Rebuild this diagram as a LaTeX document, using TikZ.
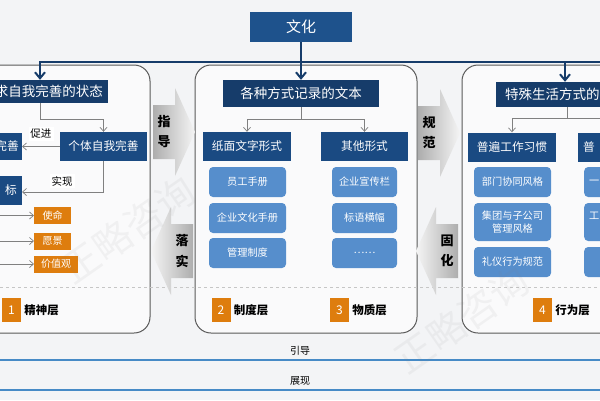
\documentclass[tikz,border=0pt]{standalone}
\usepackage{fontspec}
\setmainfont{Noto Sans CJK SC}
\usetikzlibrary{arrows.meta,positioning}
\definecolor{topblue}{RGB}{30,82,140}
\definecolor{dkblue}{RGB}{22,60,106}
\definecolor{subblue}{RGB}{26,74,130}
\definecolor{ltblue}{RGB}{86,142,204}
\definecolor{orng}{RGB}{222,125,14}
\definecolor{bgcol}{RGB}{243,244,246}
\definecolor{lnblue}{RGB}{70,138,198}
\begin{document}
\begin{tikzpicture}[x=1pt,y=-1pt,
    hdr/.style={fill=dkblue,text=white,inner sep=0pt,font=\fontsize{13.5}{14}\selectfont},
    sub/.style={fill=subblue,text=white,inner sep=0pt,minimum height=29pt,font=\fontsize{11.7}{12}\selectfont},
    item/.style={fill=ltblue,text=white,rounded corners=4pt,inner sep=0pt,minimum height=30pt,align=center,font=\fontsize{10.2}{13}\selectfont},
    tag/.style={fill=orng,text=white,inner sep=0pt,minimum height=17pt,font=\fontsize{10}{10}\selectfont},
    num/.style={fill=orng,text=white,inner sep=0pt,minimum width=19pt,minimum height=24pt,font=\fontsize{12}{12}\selectfont},
    layer/.style={inner sep=0pt,font=\bfseries\fontsize{11.5}{12}\selectfont},
    lbl/.style={fill=white,inner sep=2pt,font=\fontsize{10.5}{11}\selectfont},
    arrtxt/.style={inner sep=0pt,font=\bfseries\fontsize{13}{13}\selectfont},
    conn/.style={draw=gray,line width=0.7pt},
    tip/.style={-{Straight Barb[length=4pt,width=7pt]}},
    topln/.style={draw=dkblue,line width=2pt},
    panel/.style={draw=black!65,line width=1pt,rounded corners=16pt,fill=white!55!bgcol},
    wm/.style={text=gray,opacity=0.08,inner sep=0pt,rotate=35,font=\fontsize{38}{38}\selectfont}]
    \useasboundingbox (0,0) rectangle (600,400);
    \clip (0,0) rectangle (600,400);
    \fill[bgcol] (0,0) rectangle (600,400);
    % panels
    \draw[panel] (-20,65) rectangle (150,333);
    \draw[panel] (195,65) rectangle (417,333);
    \draw[panel] (462,65) rectangle (630,333);
    \draw[gray!45,dashed] (0,287) -- (600,287);
    % bottom lines
    \draw[lnblue,line width=1.5pt] (0,360) -- (600,360);
    \draw[lnblue,line width=1.5pt] (0,390) -- (600,390);
    \node[font=\fontsize{10}{10}\selectfont] (guide) at (300,351) {引导};
    \node[font=\fontsize{10}{10}\selectfont] (show) at (300,381) {展现};
    % headers
    \node[hdr,fill=topblue,minimum width=102pt,minimum height=30pt,font=\fontsize{15}{15}\selectfont] (wh) at (301,27) {文化};
    \node[hdr,anchor=east,text width=120pt,align=right,inner xsep=5pt,minimum height=23pt] (lhdr) at (108,91.5) {求自我完善的状态};
    \node[hdr,minimum width=156pt,minimum height=27pt] (mhdr) at (301,93.5) {各种方式记录的文本};
    \node[hdr,anchor=west,text width=120pt,align=left,inner xsep=9pt,minimum height=25pt] (rhdr) at (496,94.5) {特殊生活方式的};
    % top line
    \coordinate (tl) at (40,62);
    \coordinate (tr) at (565,62);
    \coordinate (te) at (610,62);
    \draw[topln,{Straight Barb[length=6pt,width=10pt]}-{Straight Barb[length=6pt,width=10pt]}] (tl |- lhdr.north) -- (tl) -- (tr) -- (tr |- rhdr.north);
    \draw[topln] (tr) -- (te);
    \draw[topln,-{Straight Barb[length=6pt,width=10pt]}] (wh) -- (mhdr);
    % left panel
    \node[sub,minimum width=87pt] (self) at (103.5,146.5) {个体自我完善};
    \node[sub,anchor=east,text width=40pt,align=right,inner xsep=3pt,minimum height=27pt] (org) at (22,146.5) {完善};
    \node[sub,anchor=east,text width=40pt,align=right,inner xsep=5pt] (goal) at (22,190.5) {标};
    \coordinate (lsplit) at (40,119);
    \coordinate (lturn) at (103,192);
    \draw[conn] (lhdr.south -| lsplit) -- (lsplit);
    \draw[conn,tip] (lsplit) -| (self);
    \draw[conn,tip] (self) -- (org);
    \draw[conn,tip] (self.south) -- (self.south |- lturn) -- (goal.east |- lturn);
    \node[lbl] (push) at (41,134) {促进};
    \node[lbl] (reach) at (62,181) {实现};
    \node[tag,anchor=west,minimum width=37pt] (mission) at (34,215.5) {使命};
    \node[tag,anchor=west,minimum width=37pt] (vision) at (34,241) {愿景};
    \node[tag,anchor=west,minimum width=44pt] (values) at (34,264) {价值观};
    \coordinate (src) at (-5,0);
    \foreach \t in {mission,vision,values}
        \draw[conn,tip] (\t.west -| src) -- (\t.west);
    % middle panel
    \node[sub,minimum width=88pt] (paper) at (247,146.5) {纸面文字形式};
    \node[sub,minimum width=87pt] (other) at (364.5,146.5) {其他形式};
    \coordinate (msplit) at (301,119);
    \draw[conn] (mhdr) -- (msplit);
    \draw[conn,tip] (msplit) -| (paper);
    \draw[conn,tip] (msplit) -| (other);
    \foreach \n/\y/\t in {p1/182/员工手册,p2/218/企业文化手册,p3/253/管理制度}
        \node[item,minimum width=77pt] (\n) at (247.5,\y) {\t};
    \foreach \n/\y/\t in {o1/182/企业宣传栏,o2/218/标语横幅,o3/253/……}
        \node[item,minimum width=65pt] (\n) at (364.5,\y) {\t};
    % right panel
    \node[sub,minimum width=88pt] (habit) at (512,147) {普遍工作习惯};
    \node[sub,anchor=west,text width=80pt,align=left,inner xsep=5pt] (habit2) at (578,147) {普};
    \coordinate (rsplit) at (567,118);
    \draw[conn] (rhdr.south -| rsplit) -- (rsplit);
    \draw[conn,tip] (rsplit) -| (habit);
    \draw[conn,tip] (rsplit) -| (habit2);
    \foreach \n/\y/\h/\t in {h1/182/30/部门协同风格,h2/222/38/{集团与子公司\\管理风格},h3/262/30/礼仪行为规范}
        \node[item,minimum width=77pt,minimum height=\h pt] (\n) at (512.5,\y) {\t};
    \foreach \n/\y/\h/\t in {g1/182/30/一,g2/222/38/{工\\\phantom{工}},g3/262/30/{}}
        \node[item,anchor=west,text width=60pt,align=left,inner xsep=5pt,minimum height=\h pt] (\n) at (584,\y) {\t};
    % layers
    \foreach \n/\x/\t in {1/11.5/精神层,2/221/制度层,3/339.5/物质层,4/542.5/行为层}{
        \node[num] (num\n) at (\x,310) {\n};
        \node[layer,right=3pt of num\n] (lay\n) {\t};
    }
    % big arrows
    \foreach \x/\y/\d/\a/\b in {153/132/1/指/导,418/133/1/规/范,193/251/-1/落/实,458/251/-1/固/化}{
        \pgfmathsetmacro\ang{90*\d}
        \shade[top color=black!32,bottom color=black!4,shading angle=\ang]
            ({\x},{\y-27}) -- ({\x+22*\d},{\y-27}) -- ({\x+22*\d},{\y-44}) -- ({\x+42*\d},{\y})
            -- ({\x+22*\d},{\y+44}) -- ({\x+22*\d},{\y+27}) -- ({\x},{\y+27}) -- cycle;
        \node[arrtxt] (a\x) at ({\x+11*\d},{\y-10}) {\a};
        \node[arrtxt] (b\x) at ({\x+11*\d},{\y+10}) {\b};
    }
    % watermark
    \node[wm] (wm1) at (128,230) {正略咨询};
    \node[wm] (wm2) at (462,320) {正略咨询};
\end{tikzpicture}
\end{document}
